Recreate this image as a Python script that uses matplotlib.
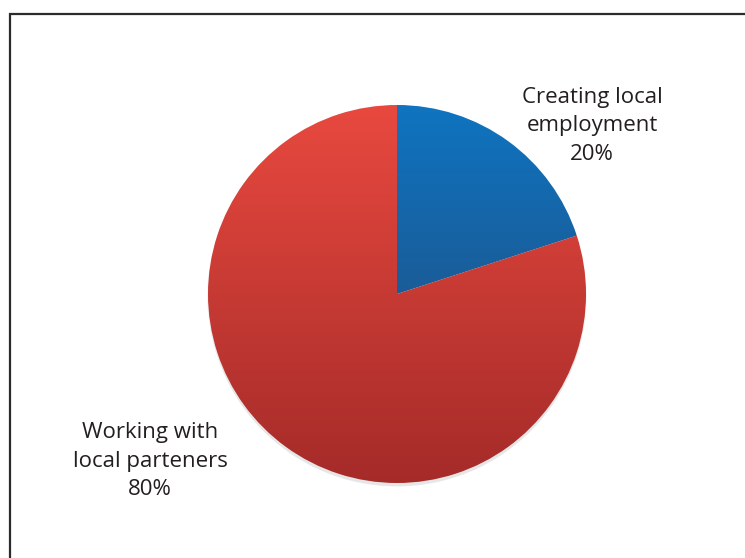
import numpy as np
import matplotlib.pyplot as plt
from matplotlib.colors import LinearSegmentedColormap, to_rgb
from matplotlib.patches import Circle

labels = ['Creating local\nemployment', 'Working with\nlocal parteners']
shares = [20, 80]
top_colors = ['#0f74c0', '#e8493f']
bottom_colors = ['#1a5c98', '#a52b29']

W, H = 745, 558
fig = plt.figure(figsize=(W / 100, H / 100), dpi=100)
ax = fig.add_axes([0, 0, 1, 1])

cx, cy, r = 397, H - 294, 189

# soft shadow under the pie
for k in range(5):
    ax.add_patch(Circle((cx, cy - 2 - k * 0.6), r + 1 - k * 0.4, color='#000000',
                        alpha=0.02, lw=0, zorder=0))

wedges, _ = ax.pie(shares, startangle=90, counterclock=False, center=(cx, cy),
                   radius=r, frame=True,
                   wedgeprops=dict(linewidth=0, edgecolor='none'))

# vertical gradient per slice, clipped to the wedge shape
for w, c0, c1 in zip(wedges, top_colors, bottom_colors):
    w.set_facecolor('none')
    verts = w.get_path().vertices
    y0, y1 = verts[:, 1].min(), verts[:, 1].max()
    x0, x1 = verts[:, 0].min(), verts[:, 0].max()
    cmap = LinearSegmentedColormap.from_list('g', [to_rgb(c1), to_rgb(c0)])
    grad = np.linspace(0, 1, 256).reshape(-1, 1)
    im = ax.imshow(grad, cmap=cmap, extent=(x0, x1, y0, y1), origin='lower',
                   aspect='auto', zorder=1, interpolation='bilinear')
    im.set_clip_path(w)

ax.set_xlim(0, W)
ax.set_ylim(0, H)
ax.set_aspect('equal')
ax.axis('off')

font = dict(family=['Open Sans', 'DejaVu Sans'], fontsize=16, color='#231f20',
            ha='center', va='center', linespacing=1.44)
ax.text(592, H - 126, f'{labels[0]}\n{shares[0]}%', **font)
ax.text(150, H - 461, f'{labels[1]}\n{shares[1]}%', **font)

# outer frame, only top and left edges fall inside the image
ax.plot([9.5, 9.5, W + 5], [-5, H - 13.5, H - 13.5], color='#2b2b2b', lw=1.6,
        solid_joinstyle='miter', clip_on=False)

fig.savefig('out.png', dpi=100, facecolor='white')
